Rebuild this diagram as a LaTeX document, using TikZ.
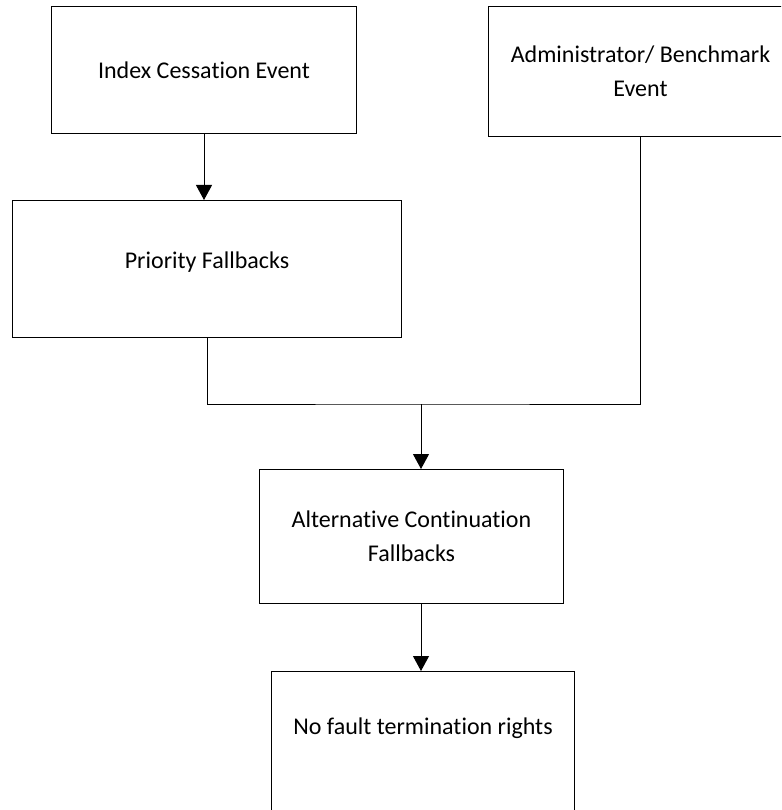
\documentclass[tikz,border=0pt]{standalone}
\usepackage{fontspec}
\setmainfont[Ligatures=NoCommon]{Carlito}
\usetikzlibrary{arrows.meta,positioning}

\begin{document}
\begin{tikzpicture}
[x=1pt, y=-1pt, font=\fontsize{24}{34}\selectfont,
% STYLES
% The stage style is used for every box of the flow
stage/.style={rectangle, draw, line width=1pt, inner sep=5pt, align=center, anchor=north west},
% plain joining lines and the arrows into a box
link/.style={line width=1pt},
flow/.style={link, -{Triangle[length=15pt,width=16pt]}}]

\useasboundingbox (0,0) rectangle (781,810);
\clip (0,0) rectangle (781,810);

% Events
\node [stage, minimum width=305, minimum height=127] (cessation) at (51,6) {Index Cessation Event};
\node [stage, minimum width=304, minimum height=130] (admin) at (488,6) {Administrator/ Benchmark\\Event};

% Fallbacks
\node [stage, minimum width=389, minimum height=137, text depth=18pt] (priority) at (12,200) {Priority Fallbacks};
\node [stage, minimum width=304, minimum height=134] (alternative) at (259,469) {Alternative Continuation\\Fallbacks};

\node [stage, minimum width=303, minimum height=150, text depth=40pt] (termination) at (271,671) {No fault termination rights};

\coordinate (join) at (421,404);

%%%%%%%%%%%%%%%%

\draw[flow] (cessation.south) -- (cessation.south |- priority.north);
\draw[link] (priority.south) |- (join) -| (admin.south);
\draw[flow] (join) -- (join |- alternative.north);
\draw[flow] (join |- alternative.south) -- (join |- termination.north);

\end{tikzpicture}
\end{document}
